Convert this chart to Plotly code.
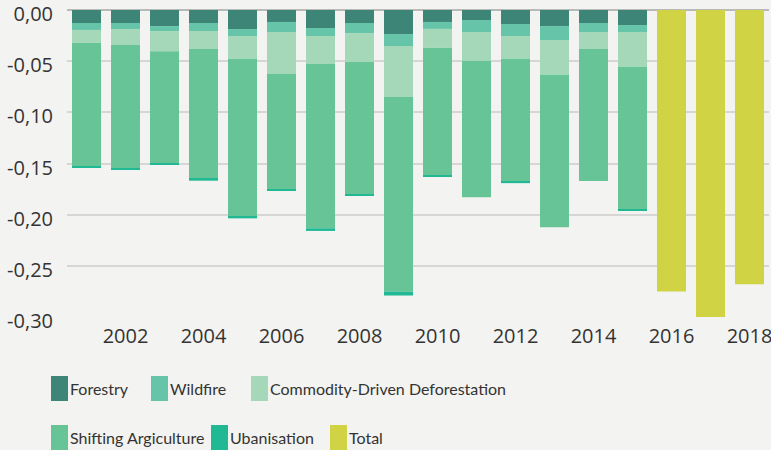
import plotly.graph_objects as go

# Annual contributions (negative = loss), 2001-2015 broken down by driver,
# 2016-2018 shown as totals only.
years = list(range(2001, 2019))

forestry = [-0.0127, -0.0127, -0.0157, -0.0127, -0.0186, -0.0117, -0.0176, -0.0127,
            -0.0235, -0.0117, -0.0098, -0.0137, -0.0157, -0.0127, -0.0147, 0, 0, 0]
wildfire = [-0.0068, -0.0059, -0.0049, -0.0078, -0.0068, -0.0098, -0.0078, -0.0098,
            -0.0117, -0.0068, -0.0117, -0.0117, -0.0137, -0.0088, -0.0068, 0, 0, 0]
commodity = [-0.0127, -0.0157, -0.0196, -0.0176, -0.0225, -0.0411, -0.0274, -0.0284,
             -0.0499, -0.0186, -0.0284, -0.0225, -0.0342, -0.0166, -0.0342, 0, 0, 0]
shifting = [-0.1210, -0.1210, -0.1100, -0.1270, -0.1540, -0.1125, -0.1605, -0.1290,
            -0.1900, -0.1250, -0.1330, -0.1200, -0.1487, -0.1290, -0.1390, 0, 0, 0]
urban = [-0.0008, -0.0010, -0.0007, -0.0017, -0.0017, -0.0017, -0.0026, -0.0010,
         -0.0039, -0.0010, 0, -0.0013, 0, 0, -0.0010, 0, 0, 0]
total = [0] * 15 + [-0.275, -0.300, -0.268]

series_names = ["Forestry", "Wildfire", "Commodity-Driven Deforestation",
                "Shifting Argiculture", "Ubanisation", "Total"]
series_values = [forestry, wildfire, commodity, shifting, urban, total]
colors = ["#3d8577", "#66c4a8", "#a5d8b8", "#67c496", "#21b894", "#d0d343"]

y_ticks = [0, -0.05, -0.10, -0.15, -0.20, -0.25, -0.30]
y_ticktext = ["0,00", "-0,05", "-0,10", "-0,15", "-0,20", "-0,25", "-0,30"]
x_ticks = list(range(2002, 2019, 2))

W, H = 771, 450
M_L, M_R, M_T, M_B = 67, 2, 10, 133
BG = "#f3f3f1"
TICK_FONT = "Open Sans"
LEGEND_FONT = "Lato"
TEXT = "#333333"

fig = go.Figure()
for name, vals, col in zip(series_names, series_values, colors):
    fig.add_trace(go.Bar(x=years, y=vals, name=name, marker_color=col,
                         marker_line_width=0, showlegend=False))


def px_x(px):
    return (px - M_L) / (W - M_L - M_R)


def px_y(py):
    return (H - M_B - py) / (H - M_T - M_B)


# Legend drawn as tall swatches with labels, two rows under the plot
legend_items = [
    (0, 51, 388.5), (1, 151, 388.5), (2, 251, 388.5),
    (3, 51, 437.5), (4, 211, 437.5), (5, 330, 437.5),
]
shapes = []
annotations = []
for idx, sx, cy in legend_items:
    shapes.append(dict(type="rect", xref="paper", yref="paper",
                       x0=px_x(sx), x1=px_x(sx + 17),
                       y0=px_y(cy + 12.5), y1=px_y(cy - 12.5),
                       fillcolor=colors[idx], line_width=0, layer="above"))
    annotations.append(dict(xref="paper", yref="paper", x=px_x(sx + 17),
                            y=px_y(cy), text=series_names[idx], showarrow=False,
                            xanchor="left", yanchor="middle",
                            font=dict(family=LEGEND_FONT, size=16, color=TEXT)))

fig.update_layout(
    width=W, height=H,
    margin=dict(l=M_L, r=M_R, t=M_T, b=M_B),
    paper_bgcolor=BG, plot_bgcolor=BG,
    barmode="relative", bargap=0.256,
    font=dict(family=TICK_FONT, size=20, color=TEXT),
    shapes=shapes, annotations=annotations,
    xaxis=dict(range=[2000.5, 2018.5], tickvals=x_ticks, showgrid=False,
               zeroline=False, showline=False, ticks="", ticklabelstandoff=5,
               ticklabeloverflow="allow", automargin=False,
               tickfont=dict(family=TICK_FONT, size=20, color=TEXT)),
    yaxis=dict(range=[-0.30, 0], tickvals=y_ticks, ticktext=y_ticktext,
               showgrid=True, gridcolor="#d6d6d4", gridwidth=2,
               zeroline=True, zerolinecolor="#b9b9b7", zerolinewidth=2,
               showline=False, ticks="", ticklabelstandoff=13,
               ticklabelshift=4, ticklabeloverflow="allow", automargin=False,
               tickfont=dict(family=TICK_FONT, size=20, color=TEXT)),
)

fig.write_html("out.html")
